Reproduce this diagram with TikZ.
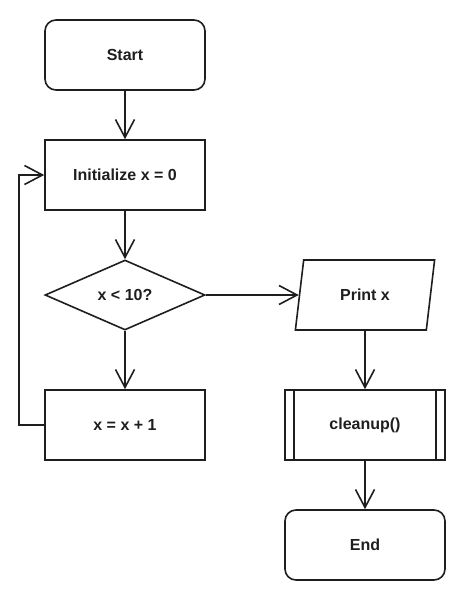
\documentclass[tikz,border=0pt]{standalone}
\usepackage{fontspec}
\setmainfont{Liberation Sans}
\usetikzlibrary{shapes.geometric,arrows.meta}
\definecolor{ink}{HTML}{1E1E1E}
\begin{document}
\begin{tikzpicture}[x=1pt,y=-1pt,
  base/.style={draw=ink,line width=1.6pt,text=ink,font=\bfseries\fontsize{16}{19}\selectfont,inner sep=0pt},
  term/.style={base,rectangle,rounded corners=11pt,minimum width=160pt,minimum height=70pt},
  proc/.style={base,rectangle,minimum width=160pt,minimum height=70pt},
  dec/.style={base,diamond,shape aspect=2.29,minimum width=160pt,minimum height=70pt},
  io/.style={base,trapezium,trapezium left angle=74,trapezium right angle=106,trapezium stretches=true,minimum width=140pt,minimum height=70pt},
  conn/.style={draw=ink,line width=1.6pt,-{Straight Barb[length=18pt,width=19pt,line width=1.6pt]}}
]
\useasboundingbox (0,0) rectangle (465,600);
\node[term] (start) at (125,55) {Start};
\node[proc] (init) at (125,175) {Initialize x = 0};
\node[dec] (cond) at (125,295) {x < 10?};
\node[proc] (inc) at (125,425) {x = x + 1};
\node[io] (print) at (365,295) {Print x};
\node[proc] (clean) at (365,425) {cleanup()};
\node[term] (end) at (365,545) {End};
\draw[draw=ink,line width=1.6pt] ([xshift=10pt]clean.north west) -- ([xshift=10pt]clean.south west);
\draw[draw=ink,line width=1.6pt] ([xshift=-10pt]clean.north east) -- ([xshift=-10pt]clean.south east);
\draw[conn] (start) -- (init);
\draw[conn] (init) -- (cond);
\draw[conn] (cond) -- (inc);
\draw[conn] (cond.east) -- (print);
\draw[conn] (print) -- (clean);
\draw[conn] (clean) -- (end);
\draw[conn] (inc.west) -- ++(-25,0) |- (init.west);
\end{tikzpicture}
\end{document}
